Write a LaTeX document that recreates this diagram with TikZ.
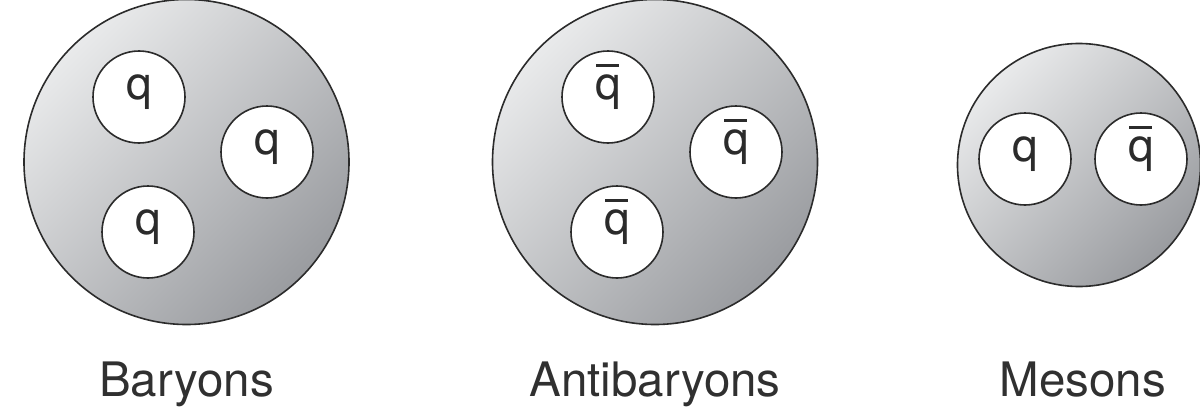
\documentclass[tikz,border=0pt]{standalone}
\usepackage{fontspec}
\setmainfont{TeX Gyre Heros}
\definecolor{edge}{HTML}{2B2B2B}
\definecolor{shlight}{HTML}{E9EAEB}
\definecolor{shdark}{HTML}{9A9CA0}
\definecolor{labelgray}{HTML}{303030}
% antiquark symbol: q with a bar as wide as the letter
\newlength\qwidth
\newcommand\antiq{\settowidth\qwidth{q}%
  \makebox[0pt][l]{\hspace*{0.02em}\raisebox{0.69em}{\rule{0.88\qwidth}{0.065em}}}q}
\begin{document}
\begin{tikzpicture}[x=1pt,y=-1pt,
  hadron/.style={circle, draw=edge, line width=1.6pt,
    top color=shlight, bottom color=shdark, shading angle=45,
    minimum size=#1, inner sep=0pt},
  quark/.style={circle, draw=edge, line width=1.6pt, fill=white,
    minimum size=92pt, inner sep=0pt,
    font=\fontsize{46}{46}\selectfont, text=edge,
    text height=0.65em, text depth=0.21em},
  caption/.style={anchor=base, font=\fontsize{47.5}{56}\selectfont, text=labelgray}]
\useasboundingbox (0,0) rectangle (1200,415);

% baryon: three quarks
\node[hadron=325pt] (bar) at (186.5,162) {};
\node[quark] (bq1) at (139,97) {q};
\node[quark] (bq2) at (267,152) {q};
\node[quark] (bq3) at (148,232) {q};
\node[caption] (barlbl) at (186.5,396) {Baryons};

% antibaryon: three antiquarks
\node[hadron=325pt] (abar) at (655,162) {};
\node[quark] (aq1) at (608,97) {\antiq};
\node[quark] (aq2) at (736,152) {\antiq};
\node[quark] (aq3) at (617,232) {\antiq};
\node[caption] (abarlbl) at (655,396) {Antibaryons};

% meson: quark + antiquark
\node[hadron=243pt] (mes) at (1079,165) {};
\node[quark] (mq1) at (1025,159) {q};
\node[quark] (mq2) at (1141,159) {\antiq};
\node[caption] (meslbl) at (1083,396) {Mesons};
\end{tikzpicture}
\end{document}
